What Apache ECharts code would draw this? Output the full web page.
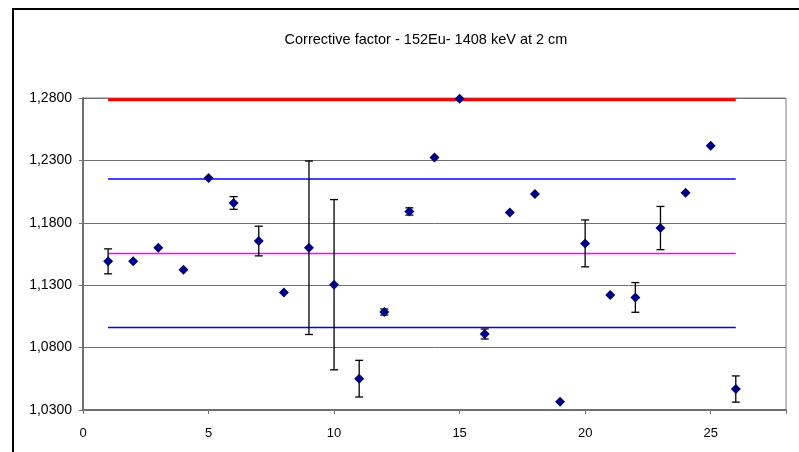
<!DOCTYPE html>
<html>
<head>
<meta charset="utf-8">
<script src="https://cdn.jsdelivr.net/npm/echarts@6/dist/echarts.min.js"></script>
<style>
html,body{margin:0;padding:0;background:#fff;}
#factor_chart{width:799px;height:452px;}
</style>
</head>
<body>
<div id="factor_chart"></div>
<script>
// measured points (run number, corrective factor, uncertainty)
var runs = [1,2,3,4,5,6,7,8,9,10,11,12,13,14,15,16,17,18,19,20,21,22,23,24,25,26];
var factors = [1.1491,1.1491,1.1600,1.1424,1.2159,1.1959,1.1654,1.1242,1.1600,1.1304,1.0551,1.1085,1.1891,
    1.2324,1.2794,1.0909,1.1883,1.2031,1.0367,1.1635,1.1221,1.1202,1.1758,1.2041,1.2418,1.0468];
var errors = [0.0100,0,0,0,0,0.0051,0.0119,0,0.0695,0.0682,0.0147,0.0024,0.0029,
    0,0,0.0040,0,0,0,0.0188,0,0.0119,0.0173,0,0,0.0105];

// reference levels drawn from run 1 to run 26
var lineRange = [1, 26];
var redLevel = 1.2785;
var upperLevel = 1.2151;
var meanLevel = 1.1555;
var lowerLevel = 1.0962;

var yTicks = [1.03, 1.08, 1.13, 1.18, 1.23, 1.28];
var xTicks = [0, 5, 10, 15, 20, 25];

var points = [];
var bars = [];
for (var i = 0; i < runs.length; i++) {
    points.push([runs[i], factors[i]]);
    if (errors[i] > 0) {
        bars.push([runs[i], factors[i] - errors[i], factors[i] + errors[i]]);
    }
}

function levelLine(v, color, width) {
    return {
        type: 'line',
        data: [[lineRange[0], v], [lineRange[1], v]],
        symbol: 'none',
        lineStyle: {color: color, width: width},
        silent: true,
        z: 2
    };
}

var chart = echarts.init(document.getElementById('factor_chart'));
chart.setOption({
    animation: false,
    backgroundColor: '#fff',
    title: {
        text: 'Corrective factor - 152Eu- 1408 keV at 2 cm',
        left: 421,
        top: 27,
        textAlign: 'center',
        textStyle: {fontFamily: 'Liberation Sans', fontSize: 14.5, fontWeight: 'normal', color: '#000'}
    },
    graphic: [{
        type: 'polyline',
        shape: {points: [[13, 460], [13, 9], [805, 9]]},
        style: {stroke: '#000', lineWidth: 2, fill: null}
    }],
    grid: {left: 83, right: 13, top: 98, bottom: 42, show: true, borderColor: '#808080', borderWidth: 1, backgroundColor: '#fff'},
    xAxis: {
        type: 'value',
        min: 0,
        max: 28,
        interval: 5,
        splitLine: {show: false},
        axisLine: {lineStyle: {color: '#707070', width: 2}},
        axisTick: {length: 4, lineStyle: {color: '#707070'}},
        axisLabel: {
            color: '#000', fontFamily: 'Liberation Sans', fontSize: 13, margin: 17,
            formatter: function (v) { return xTicks.indexOf(v) >= 0 ? String(v) : ''; }
        }
    },
    yAxis: {
        type: 'value',
        min: yTicks[0],
        max: yTicks[yTicks.length - 1],
        interval: 0.05,
        splitLine: {lineStyle: {color: '#707070', width: 1}},
        axisLine: {show: true, lineStyle: {color: '#707070', width: 2}},
        axisTick: {show: true, length: 4, lineStyle: {color: '#707070'}},
        axisLabel: {
            color: '#000', fontFamily: 'Liberation Sans', fontSize: 14, margin: 11,
            formatter: function (v) { return v.toFixed(4).replace('.', ','); }
        }
    },
    series: [
        levelLine(redLevel, '#ff0000', 3),
        levelLine(upperLevel, '#0000ff', 1.5),
        levelLine(meanLevel, '#ff00ff', 1.5),
        levelLine(lowerLevel, '#0000ff', 1.5),
        {
            type: 'custom',
            data: bars,
            z: 3,
            renderItem: function (params, api) {
                var lo = api.coord([api.value(0), api.value(1)]);
                var hi = api.coord([api.value(0), api.value(2)]);
                var w = 4;
                var st = {stroke: '#000', lineWidth: 1.3};
                return {
                    type: 'group',
                    children: [
                        {type: 'line', shape: {x1: lo[0], y1: lo[1], x2: hi[0], y2: hi[1]}, style: st},
                        {type: 'line', shape: {x1: lo[0] - w, y1: lo[1], x2: lo[0] + w, y2: lo[1]}, style: st},
                        {type: 'line', shape: {x1: hi[0] - w, y1: hi[1], x2: hi[0] + w, y2: hi[1]}, style: st}
                    ]
                };
            }
        },
        {
            type: 'scatter',
            data: points,
            symbol: 'diamond',
            symbolSize: [10, 10],
            itemStyle: {color: '#000080', opacity: 1},
            z: 4
        }
    ]
});
</script>
</body>
</html>
